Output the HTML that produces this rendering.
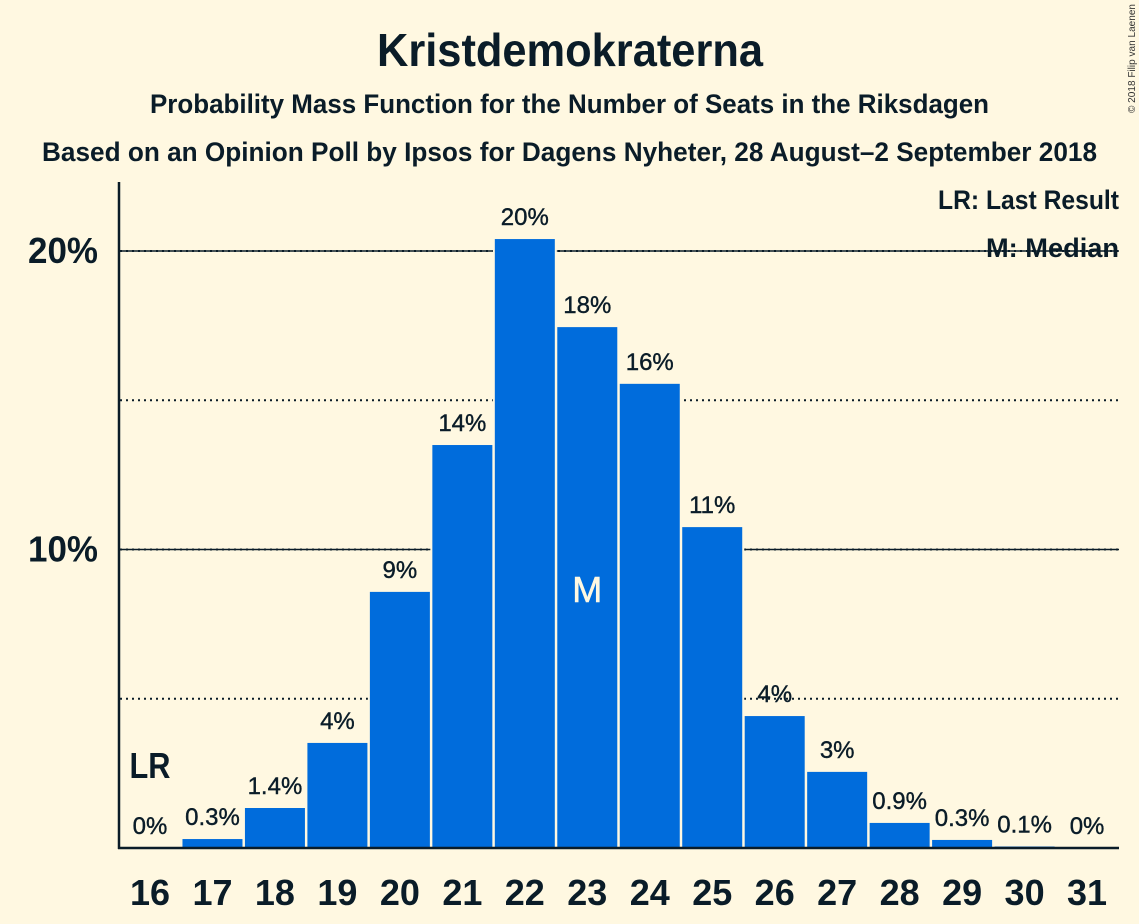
<!DOCTYPE html>
<html lang="en">
<head>
<meta charset="utf-8">
<title>Kristdemokraterna</title>
<style>
html,body{margin:0;padding:0;background:#fff8e1;}
svg{display:block;font-family:"Liberation Sans",sans-serif;}
</style>
</head>
<body>
<svg id="chart" xmlns="http://www.w3.org/2000/svg" width="1139" height="924" viewBox="0 0 1139 924">
  <rect x="0" y="0" width="1139" height="924" fill="#fff8e1"/>
  <g id="grid"></g>
  <g id="bars"></g>
  <g id="labels"></g>
  <line x1="119" y1="182" x2="119" y2="849" stroke="#0a1c28" stroke-width="2.5"/>
  <line x1="118" y1="848" x2="1119" y2="848" stroke="#0a1c28" stroke-width="2.5"/>
  <g id="yticks"></g>
  <g id="xticks"></g>
  <text x="570" y="66" text-anchor="middle" font-size="46" font-weight="700" fill="#0a1c28" textLength="386" lengthAdjust="spacingAndGlyphs">Kristdemokraterna</text>
  <text x="569.5" y="113" text-anchor="middle" font-size="27" font-weight="700" fill="#0a1c28" textLength="839" lengthAdjust="spacingAndGlyphs">Probability Mass Function for the Number of Seats in the Riksdagen</text>
  <text x="569.5" y="161" text-anchor="middle" font-size="27" font-weight="700" fill="#0a1c28" textLength="1055" lengthAdjust="spacingAndGlyphs">Based on an Opinion Poll by Ipsos for Dagens Nyheter, 28 August–2 September 2018</text>
  <text x="1119" y="209" text-anchor="end" font-size="27" font-weight="700" fill="#0a1c28" textLength="181" lengthAdjust="spacingAndGlyphs">LR: Last Result</text>
  <text x="1119" y="257" text-anchor="end" font-size="27" font-weight="700" fill="#0a1c28" textLength="133" lengthAdjust="spacingAndGlyphs">M: Median</text>
  <text transform="translate(1135,113) rotate(-90)" font-size="10" fill="#333" textLength="109" lengthAdjust="spacingAndGlyphs">© 2018 Filip van Laenen</text>
</svg>
<script>
const seats = [16,17,18,19,20,21,22,23,24,25,26,27,28,29,30,31];
const probabilities = [0,0.3,1.34,3.52,8.58,13.5,20.4,17.45,15.55,10.75,4.42,2.55,0.84,0.27,0.05,0];
const valueLabels = ["0%","0.3%","1.4%","4%","9%","14%","20%","18%","16%","11%","4%","3%","0.9%","0.3%","0.1%","0%"];
const solidTicks = [10,20];
const dottedTicks = [5,10,15,20];
const tickLabels = ["10%","20%"];
const lastResultSeat = 16;
const medianSeat = 23;

const NS = 'http://www.w3.org/2000/svg';
const INK = '#0a1c28';
const BG = '#fff8e1';
const BLUE = '#006cdc';

function xScale(seat){ return 150 + (seat - 16) * 62.47; }
function yScale(pct){ return 848 - pct * 29.85; }

function make(tag, attrs, parentId, text){
  const el = document.createElementNS(NS, tag);
  for (const k in attrs) el.setAttribute(k, attrs[k]);
  if (text !== undefined) el.textContent = text;
  document.getElementById(parentId).appendChild(el);
  return el;
}

solidTicks.forEach(function(t){
  const el = make('line', {x1:120, x2:1119, y1:yScale(t), y2:yScale(t), stroke:INK, 'stroke-width':1.6}, 'grid');
  
  
});
dottedTicks.forEach(function(t){
  const el = make('line', {x1:120, x2:1119, y1:yScale(t), y2:yScale(t), stroke:INK, 'stroke-width':2, 'stroke-dasharray':'2 4'}, 'grid');
  
  
});

seats.forEach(function(seat, i){
  const top = yScale(probabilities[i]);
  if (probabilities[i] > 0) {
    const bar = make('rect', {x:xScale(seat)-31, y:top-1, width:62, height:849-top, fill:BLUE, stroke:BG, 'stroke-width':2}, 'bars');
    
    
  }
  const label = make('text', {x:xScale(seat), y:top-14, 'text-anchor':'middle', 'font-size':24, fill:INK, stroke:INK, 'stroke-width':0.4}, 'labels', valueLabels[i]);
  
  
  const tick = make('text', {x:xScale(seat), y:905, 'text-anchor':'middle', 'font-size':36, 'font-weight':700, fill:INK}, 'xticks', String(seat));
  
  
});

solidTicks.forEach(function(t, i){
  const tick = make('text', {x:98, y:yScale(t)+12, 'text-anchor':'end', 'font-size':36, 'font-weight':700, fill:INK, textLength:70, lengthAdjust:'spacingAndGlyphs'}, 'yticks', tickLabels[i]);
  
  
});

const medianIndex = seats.indexOf(medianSeat);
const medianMark = make('text', {x:xScale(medianSeat), y:yScale(probabilities[medianIndex]/2)+14.5, 'text-anchor':'middle', 'font-size':36, fill:'#fff8e1', stroke:'#fff8e1', 'stroke-width':0.6}, 'labels', 'M');



const lastResultMark = make('text', {x:xScale(lastResultSeat), y:778, 'text-anchor':'middle', 'font-size':36, 'font-weight':700, fill:INK, textLength:41, lengthAdjust:'spacingAndGlyphs'}, 'labels', 'LR');


</script>
</body>
</html>
